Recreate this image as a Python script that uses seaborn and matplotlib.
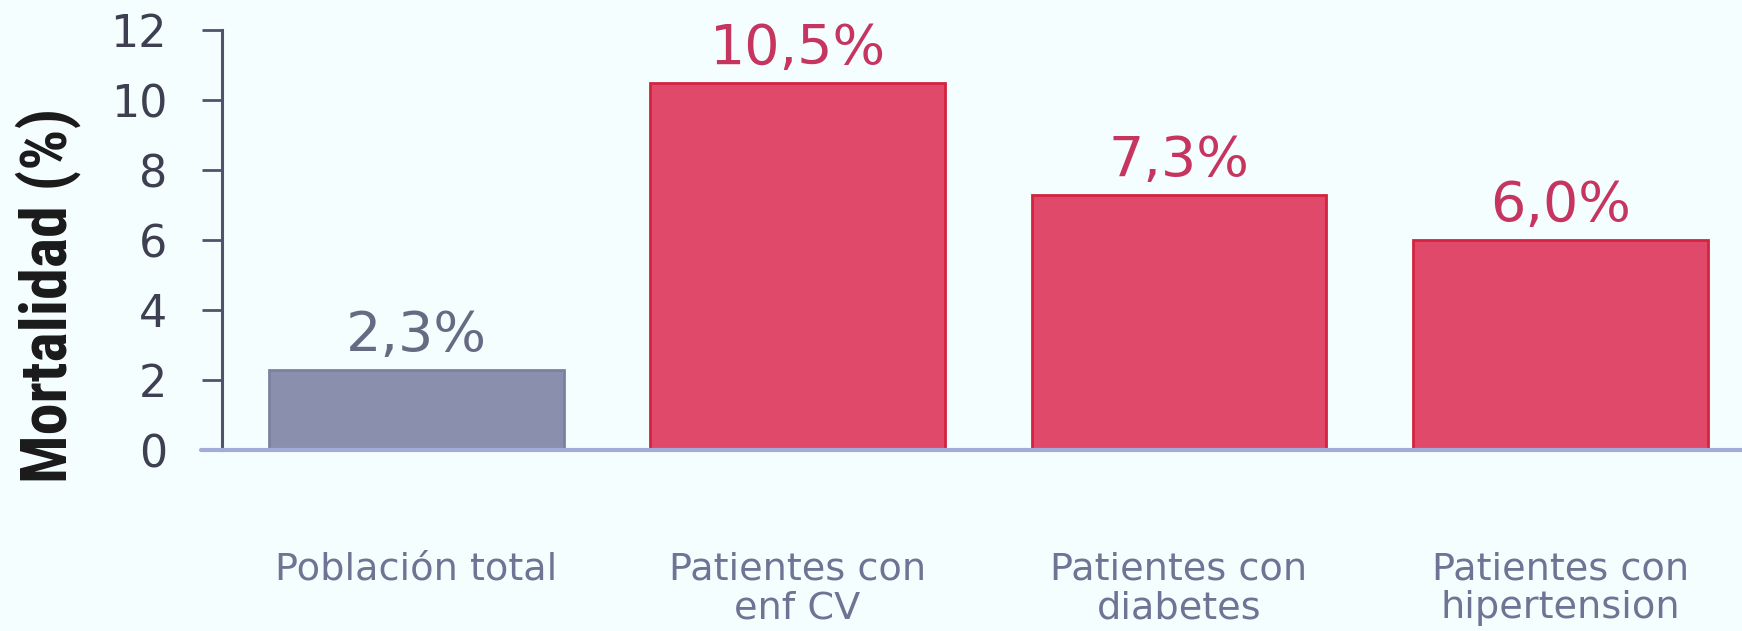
import matplotlib
matplotlib.use("Agg")
import matplotlib.pyplot as plt
import seaborn as sns
import pandas as pd
from matplotlib import font_manager as fm

categories = ["Población total", "Patientes con\nenf CV", "Patientes con\ndiabetes", "Patientes con\nhipertension"]
values = [2.3, 10.5, 7.3, 6.0]
value_labels = ["2,3%", "10,5%", "7,3%", "6,0%"]
yticks = [0, 2, 4, 6, 8, 10, 12]
ylabel = "Mortalidad (%)"

bar_colors = ["#8A8FAD", "#E0496A", "#E0496A", "#E0496A"]
edge_colors = ["#7C819F", "#D2233F", "#D2233F", "#D2233F"]
label_colors = ["#666B84", "#C53560", "#C53560", "#C53560"]

sns.set_theme(style="white")
plt.rcParams["font.family"] = ["DejaVu Sans"]

bg = "#F5FEFF"
fig = plt.figure(figsize=(17.42, 6.31), dpi=100, facecolor=bg)
ax = fig.add_axes([222 / 1742, 181 / 631, 1520 / 1742, 420 / 631])
ax.set_facecolor(bg)

df = pd.DataFrame({"cat": categories, "val": values})
sns.barplot(data=df, x="cat", y="val", hue="cat", palette=bar_colors,
            width=0.773, legend=False, ax=ax, saturation=1)
for p, ec in zip(ax.patches, edge_colors):
    p.set_edgecolor(ec)
    p.set_linewidth(2.0)

for i, (v, t, c) in enumerate(zip(values, value_labels, label_colors)):
    ax.annotate(t, (i, v), xytext=(0, 13.5), textcoords="offset points",
                ha="center", va="baseline", fontsize=40, color=c, clip_on=False)

ax.set_xlim(-0.509, 3.476)
ax.set_ylim(0, 12)
ax.set_yticks(yticks)
ax.set_yticklabels([str(t) for t in yticks])
ax.set_xlabel("")
ax.set_ylabel("")

for s in ["top", "right", "bottom"]:
    ax.spines[s].set_visible(False)
ax.spines["left"].set_color("#50536B")
ax.spines["left"].set_linewidth(2.2)
ax.axhline(0, xmin=-0.0135, xmax=1, color="#A3ACD8", lw=3, clip_on=False, zorder=5)

ax.tick_params(axis="y", length=14.5, width=2.0, color="#50536B", pad=25,
               labelsize=32, labelcolor="#3E4052", left=True)
ax.tick_params(axis="x", length=0, pad=73, labelsize=27.5, labelcolor="#6E7494")
for lbl in ax.get_xticklabels():
    lbl.set_va("top")
    lbl.set_linespacing(1.1)

# y label: narrowest available bold face, sized to the reference length
fname = None
for fam in ["Liberation Sans Narrow", "Roboto Condensed", "Liberation Sans", "Roboto"]:
    try:
        fname = fm.findfont(fm.FontProperties(family=fam, weight="bold"), fallback_to_default=False)
        break
    except Exception:
        continue
fp = fm.FontProperties(fname=fname, size=44) if fname else fm.FontProperties(family="DejaVu Sans", weight="bold", size=40)
yl = fig.text(48 / 1742, 1 - 295 / 631, ylabel, rotation=90, ha="center", va="center",
              fontproperties=fp, color="#1A1A1A")
fig.canvas.draw()
h = yl.get_window_extent().height
fp.set_size(fp.get_size() * 375.0 / h)
yl.set_fontproperties(fp)

fig.savefig("out.png", dpi=100, facecolor=bg)
